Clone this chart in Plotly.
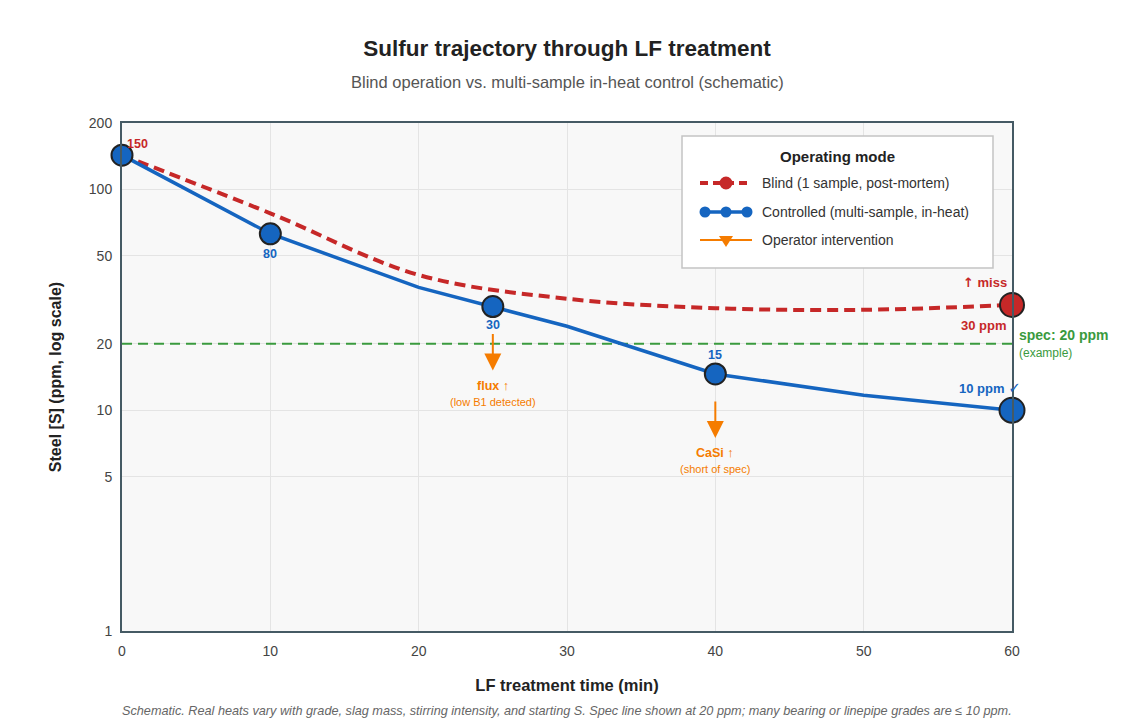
import math
import plotly.graph_objects as go

# ---------------- data ----------------
blind_t = [0, 10, 20, 30, 40, 50, 60]
blind_s = [143, 78, 41, 32, 29, 28.5, 30]

ctrl_t = [0, 10, 20, 25, 30, 40, 50, 60]
ctrl_s = [143, 63, 36, 29.5, 24, 14.6, 11.7, 10]
ctrl_sampled = [True, True, False, True, False, True, False, True]

spec_ppm = 20
spec_t = [0, 60]

interv_t = [25, 40]
interv_label = ["flux ↑", "CaSi ↑"]
interv_note = ["(low B1 detected)", "(short of spec)"]

x_ticks = [0, 10, 20, 30, 40, 50, 60]
y_ticks = [1, 5, 10, 20, 50, 100, 200]

RED = "#c62828"
BLUE = "#1565c0"
GREEN = "#3a9a3e"
ORANGE = "#f57c00"
FONT = "Liberation Sans, Arial, sans-serif"

W, H = 1125, 725
L, R, T, B = 122, 113, 123, 94
PW, PH = W - L - R, H - T - B


def fx(px):
    return (px - L) / PW


def fy(py):
    return (H - B - py) / PH


lg = math.log10

fig = go.Figure()

# spec line (as a trace so it sits above the grid)
fig.add_trace(go.Scatter(
    x=spec_t, y=[spec_ppm] * len(spec_t), mode="lines",
    line=dict(color=GREEN, width=2, dash="10px,6px"), showlegend=False, hoverinfo="skip"))

# blind trajectory (smooth dashed)
fig.add_trace(go.Scatter(
    x=blind_t, y=blind_s, mode="lines",
    line=dict(color=RED, width=4, dash="11px,6px", shape="spline", smoothing=1.0),
    showlegend=False, hoverinfo="skip"))
# blind final sample
fig.add_trace(go.Scatter(
    x=blind_t[-1:], y=blind_s[-1:], mode="markers",
    marker=dict(color=RED, size=24, opacity=1, line=dict(color="#222222", width=2)),
    showlegend=False, cliponaxis=False))

# controlled trajectory
fig.add_trace(go.Scatter(
    x=ctrl_t, y=ctrl_s, mode="lines", line=dict(color=BLUE, width=3.5), showlegend=False))
st = [t for t, s in zip(ctrl_t, ctrl_sampled) if s]
sv = [v for v, s in zip(ctrl_s, ctrl_sampled) if s]
sizes = [21] * (len(st) - 1) + [25]
fig.add_trace(go.Scatter(
    x=st, y=sv, mode="markers",
    marker=dict(color=BLUE, size=sizes, opacity=1, line=dict(color="#222222", width=2)),
    showlegend=False, cliponaxis=False))

ann = []


def a(**kw):
    base = dict(showarrow=False, xanchor="center", yanchor="middle")
    base.update(kw)
    ann.append(base)


def f(size, color, **kw):
    d = dict(family=FONT, size=size, color=color)
    d.update(kw)
    return d


# point labels (log axis -> annotation y in log10 units)
a(x=ctrl_t[0], y=lg(ctrl_s[0]), text="<b>150</b>", xanchor="left", xshift=3, yshift=11, font=f(12.5, RED))
a(x=st[1], y=lg(sv[1]), text="<b>80</b>", yshift=-20, font=f(12.5, BLUE))
a(x=st[2], y=lg(sv[2]), text="<b>30</b>", yshift=-18, font=f(12.5, BLUE))
a(x=st[3], y=lg(sv[3]), text="<b>15</b>", yshift=19, font=f(12.5, BLUE))
a(x=st[4], y=lg(sv[4]), text="<b>10 ppm</b> <span style='font-family:DejaVu Sans;font-size:15px'>✓</span>",
  xanchor="right", xshift=11, yshift=22, font=f(13, BLUE))
a(x=blind_t[-1], y=lg(blind_s[-1]), text="<b><span style='font-family:DejaVu Sans'>↑</span> miss</b>",
  xanchor="right", xshift=-3, yshift=22, font=f(13, RED))
a(x=blind_t[-1], y=lg(blind_s[-1]), text="<b>30 ppm</b>", xanchor="right", xshift=-3, yshift=-21, font=f(13, RED))
a(x=60, y=lg(spec_ppm), text="<b>spec: 20 ppm</b>", xanchor="left", xshift=5, yshift=9, font=f(14, GREEN))
a(x=60, y=lg(spec_ppm), text="(example)", xanchor="left", xshift=5, yshift=-9, font=f(12, GREEN))

# interventions
for t, lab, note in zip(interv_t, interv_label, interv_note):
    yv = lg(ctrl_s[ctrl_t.index(t)])
    ann.append(dict(x=t, y=yv, ax=0, ay=-38, text="", showarrow=True, arrowhead=2, arrowsize=1.7,
                    arrowwidth=2, arrowcolor=ORANGE, yshift=-64, standoff=0))
    a(x=t, y=yv, text=f"<b>{lab}</b>", yshift=-79, font=f(12.5, ORANGE))
    a(x=t, y=yv, text=note, yshift=-95, font=f(11, ORANGE))

# subtitle & footnote
a(xref="paper", yref="paper", x=0.5, y=fy(82), text="Blind operation vs. multi-sample in-heat control (schematic)",
  font=f(16.5, "#555555"))
a(xref="paper", yref="paper", x=0.5, y=fy(711),
  text="<i>Schematic. Real heats vary with grade, slag mass, stirring intensity, and starting S. Spec line shown at 20 ppm; many bearing or linepipe grades are ≤ 10 ppm.</i>",
  font=f(12.7, "#666666"))

# custom legend
fig.add_shape(type="rect", xref="paper", yref="paper", x0=fx(682), x1=fx(993), y0=fy(268), y1=fy(136),
              line=dict(color="#c4c4c4", width=1.5), fillcolor="white", layer="above")
a(xref="paper", yref="paper", x=fx(837), y=fy(156), text="<b>Operating mode</b>", font=f(15, "#222222"))
rows = [(183, "Blind (1 sample, post-mortem)"), (212, "Controlled (multi-sample, in-heat)"), (240, "Operator intervention")]
for py, txt in rows:
    a(xref="paper", yref="paper", x=fx(760), y=fy(py), xanchor="left", text=txt, font=f(14, "#333333"))
fig.add_shape(type="line", xref="paper", yref="paper", x0=fx(700), x1=fx(752), y0=fy(183), y1=fy(183),
              line=dict(color=RED, width=4, dash="8px,5px"), layer="above")
fig.add_shape(type="line", xref="paper", yref="paper", x0=fx(700), x1=fx(752), y0=fy(212), y1=fy(212),
              line=dict(color=BLUE, width=3.5), layer="above")
fig.add_shape(type="line", xref="paper", yref="paper", x0=fx(700), x1=fx(752), y0=fy(240), y1=fy(240),
              line=dict(color=ORANGE, width=2), layer="above")


def circ(cx, cy, r, col):
    fig.add_shape(type="circle", xref="paper", yref="paper", xsizemode="pixel", ysizemode="pixel",
                  xanchor=fx(cx), yanchor=fy(cy), x0=-r, x1=r, y0=-r, y1=r,
                  fillcolor=col, line=dict(width=0), layer="above")


circ(726, 183, 6.5, RED)
for cx in (705, 726, 747):
    circ(cx, 212, 5.5, BLUE)
fig.add_shape(type="path", xref="paper", yref="paper", xsizemode="pixel", ysizemode="pixel",
              xanchor=fx(726), yanchor=fy(240), path="M-7,4 L7,4 L0,-7 Z",
              fillcolor=ORANGE, line=dict(width=0), layer="above")

fig.update_layout(
    width=W, height=H,
    margin=dict(l=L, r=R, t=T, b=B),
    paper_bgcolor="white", plot_bgcolor="#f8f8f8",
    font=dict(family=FONT, color="#444444"),
    title=dict(text="<b>Sulfur trajectory through LF treatment</b>", x=0.5, xref="paper", xanchor="center",
               y=1 - 48 / H, yref="container", yanchor="middle", font=f(22.5, "#222222")),
    annotations=ann,
    showlegend=False,
)
fig.update_xaxes(range=[0, 60], tickvals=x_ticks, ticktext=[str(v) for v in x_ticks],
                 showgrid=True, gridcolor="#e4e4e4", gridwidth=1, zeroline=False,
                 showline=True, mirror=True, linecolor="#455a64", linewidth=2, ticks="",
                 ticklabelstandoff=6,
                 tickfont=f(14, "#444444"),
                 title=dict(text="<b>LF treatment time (min)</b>", font=f(16.5, "#222222"), standoff=22))
fig.update_yaxes(type="log", range=[0, lg(200)], tickvals=y_ticks, ticktext=[str(v) for v in y_ticks],
                 showgrid=True, gridcolor="#e4e4e4", gridwidth=1, zeroline=False,
                 showline=True, mirror=True, linecolor="#455a64", linewidth=2, ticks="",
                 ticklabelstandoff=5,
                 tickfont=f(14, "#444444"),
                 title=dict(text="<b>Steel [S] (ppm, log scale)</b>", font=f(16, "#222222"), standoff=23))

fig.write_html("out.html")
